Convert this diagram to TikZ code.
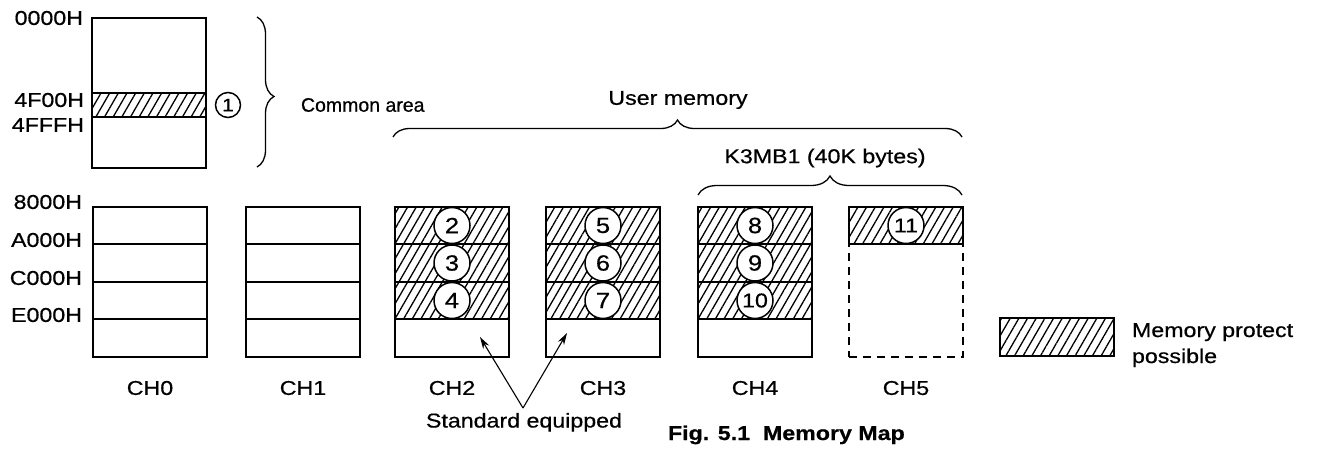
\documentclass[tikz,border=0pt]{standalone}
\usepackage{fontspec}
\setmainfont{Liberation Sans}[FakeStretch=1.16,FakeBold=0.6]
\newfontfamily\narrowsans{Liberation Sans}[FakeBold=0.6]
\usetikzlibrary{patterns.meta,decorations.pathreplacing,arrows.meta}
\begin{document}
\begin{tikzpicture}[x=1pt,y=-1pt,line width=2pt,
  font=\fontsize{20}{24}\selectfont,
  cell/.style={draw,minimum width=114pt,inner sep=0pt},
  hatch/.style={pattern={Lines[angle=60,distance=7.5pt,line width=1.3pt]}},
  circ/.style={draw,circle,fill=white,minimum size=36pt,inner sep=0pt,line width=1.5pt,font=\fontsize{22}{24}\selectfont},
  lbl/.style={anchor=east,inner sep=0pt},
  brc/.style={decorate,decoration={brace,amplitude=17pt},line width=1.3pt},
  arr/.style={-{Stealth[length=12pt,width=7pt]},line width=1.1pt}]
\useasboundingbox (0,0) rectangle (1324,448);

% common area box
\node[draw,minimum width=114pt,minimum height=150pt,inner sep=0pt] (cbox) at (149,93) {};
\node[draw,hatch,minimum width=114pt,minimum height=24pt,inner sep=0pt] (cband) at (149,105) {};
\node[circ,minimum size=25pt,font=\fontsize{18}{20}\selectfont] (n1) at (228,105) {1};
\node[lbl] (a0000) at (84,18) {0000H};
\node[lbl] (a4f00) at (85,100) {4F00H};
\node[lbl] (a4fff) at (85,125) {4FFFH};
\draw[brc,decoration={aspect=0.53}] (257,17) -- (257,167);
\node[anchor=west,inner sep=0pt,font=\narrowsans\fontsize{19.5}{24}\selectfont] (common) at (300,105) {Common area};

% plain channels CH0, CH1
\foreach \c/\x in {0/150,1/303}{
  \foreach \r/\y/\h in {1/225.5/37,2/263/38,3/300.5/37,4/338/38}{
    \node[cell,minimum height=\h pt] (ch\c r\r) at (\x,\y) {};
  }
}
% hatched channels CH2..CH4
\foreach \c/\x in {2/452,3/603,4/755}{
  \foreach \r/\y/\h in {1/225.5/37,2/263/38,3/300.5/37}{
    \node[cell,hatch,minimum height=\h pt] (ch\c r\r) at (\x,\y) {};
  }
  \node[cell,minimum height=38pt] (ch\c r4) at (\x,338) {};
}
% CH5
\node[cell,dashed,dash pattern=on 8pt off 6pt,minimum height=113pt] (ch5low) at (906,300.5) {};
\node[cell,hatch,minimum height=37pt] (ch5r1) at (906,225.5) {};

% numbered circles
\node[circ] (n2) at (ch2r1) {2};
\node[circ] (n3) at (ch2r2) {3};
\node[circ] (n4) at (ch2r3) {4};
\node[circ] (n5) at (ch3r1) {5};
\node[circ] (n6) at (ch3r2) {6};
\node[circ] (n7) at (ch3r3) {7};
\node[circ] (n8) at (ch4r1) {8};
\node[circ] (n9) at (ch4r2) {9};
\node[circ,font=\fontsize{20}{24}\selectfont] (n10) at (ch4r3) {10};
\node[circ,font=\fontsize{20}{24}\selectfont] (n11) at (ch5r1) {11};

% address labels
\node[lbl] (a8000) at (83,202) {8000H};
\node[lbl] (aa000) at (83,240) {A000H};
\node[lbl] (ac000) at (83,278) {C000H};
\node[lbl] (ae000) at (83,315) {E000H};

% channel labels
\foreach \c/\x in {0/150,1/303,2/452,3/603,4/755,5/906}{
  \node (lch\c) at (\x,388) {CH\c};
}

% braces
\draw[brc] (393,137) -- (962,137);
\node (user) at (678,100) {User memory};
\draw[brc,decoration={amplitude=19pt}] (698,195) -- (962,195);
\node (k3mb1) at (825,158) {K3MB1 (40K bytes)};

% standard equipped
\coordinate (apex) at (523,408);
\coordinate (t2) at (480,337);
\coordinate (t3) at (567,333);
\draw[arr] (apex) -- (t2);
\draw[arr] (apex) -- (t3);
\node[anchor=north,inner sep=0pt] (std) at (524,412) {Standard equipped};

% caption
\node[anchor=base west,inner sep=0pt,font=\bfseries\fontsize{20}{24}\selectfont] (fig) at (667,440) {Fig. 5.1\ \ Memory Map};

% legend
\node[cell,hatch,minimum height=38pt] (leg) at (1057,337) {};
\node[anchor=base west,inner sep=0pt] (mp1) at (1131,337) {Memory protect};
\node[anchor=base west,inner sep=0pt] (mp2) at (1131,363) {possible};
\end{tikzpicture}
\end{document}
